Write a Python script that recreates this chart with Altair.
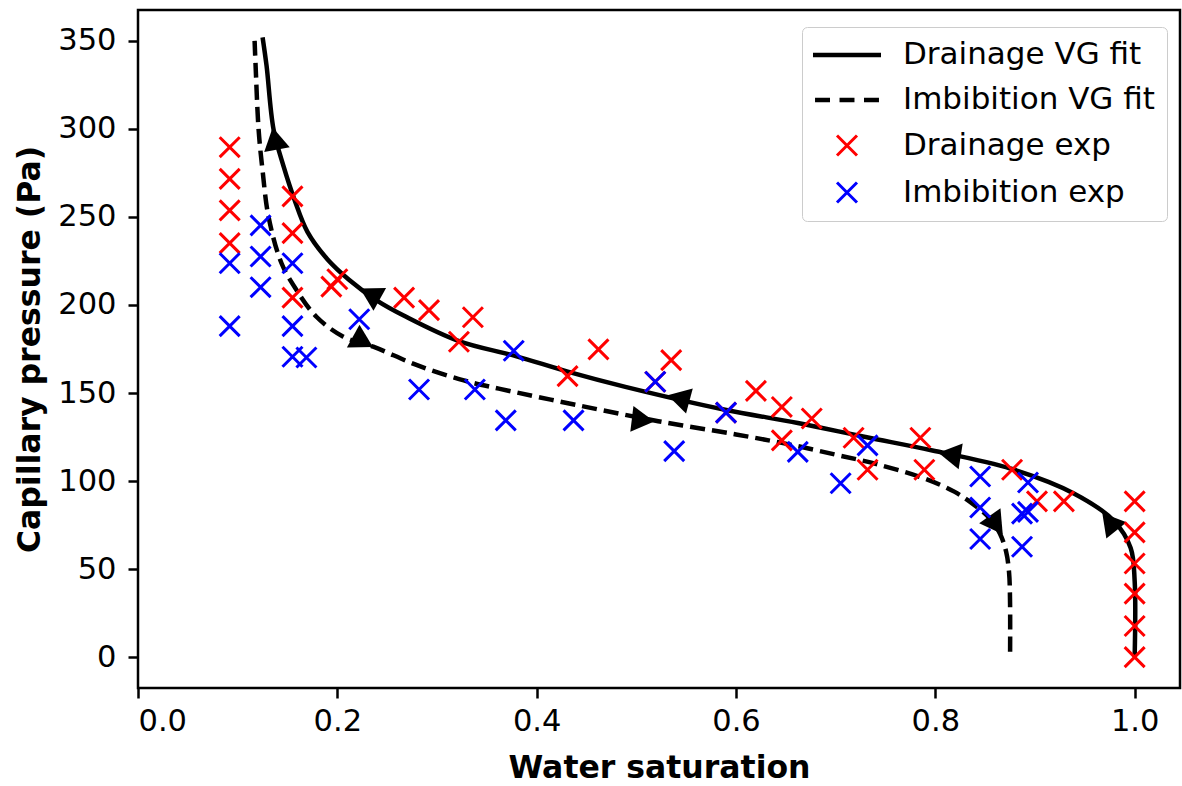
import altair as alt
import pandas as pd

# ---- fitted van Genuchten curves ----
drain_fit_sw = [0.125, 0.129, 0.136, 0.146, 0.157, 0.170, 0.190, 0.212, 0.239, 0.269,
                0.322, 0.379, 0.432, 0.489, 0.589, 0.662, 0.730, 0.796, 0.876, 0.939,
                0.979, 0.996, 1.000, 1.000]
drain_fit_pc = [352, 335.8, 299.7, 278.8, 259.8, 241.5, 226, 214.2, 202.8, 193.3,
                179.5, 171, 162, 153.5, 140.5, 133, 125, 117.5, 107, 93,
                77.5, 62, 43.4, 0]

imb_fit_sw = [0.117, 0.118, 0.121, 0.125, 0.131, 0.144, 0.159, 0.179, 0.206, 0.236,
              0.280, 0.326, 0.362, 0.442, 0.522, 0.600, 0.652, 0.700, 0.742, 0.789,
              0.819, 0.839, 0.855, 0.865, 0.871, 0.874, 0.875, 0.875]
imb_fit_pc = [350, 335.8, 299.7, 276.3, 250, 223.7, 208.5, 193.3, 182, 176.3,
              165.8, 157.3, 152.5, 143, 134, 126.5, 121, 115, 109.5, 101.5,
              94, 86.5, 78.5, 70, 60, 48, 30, 0]

# ---- experimental points ----
drain_exp_sw = [0.092, 0.092, 0.092, 0.092, 0.155, 0.155, 0.155, 0.194, 0.200,
                0.267, 0.292, 0.336, 0.322, 0.462, 0.431, 0.535, 0.519, 0.590,
                0.620, 0.646, 0.676, 0.646, 0.718, 0.732, 0.785, 0.789, 0.877,
                0.902, 0.929, 1.0, 1.0, 1.0, 1.0, 1.0, 1.0]
drain_exp_pc = [289.6, 271.6, 253.7, 235.1, 261.7, 240.8, 204.2, 210.4, 214.6,
                204.2, 197.1, 193.0, 179.1, 174.8, 159.6, 168.7, 156.4, 138.9,
                151.2, 142.1, 135.5, 123.1, 124.6, 106.4, 124.6, 106.4, 106.4,
                88.5, 88.5, 88.5, 70.9, 53.2, 36.1, 17.7, 0.0]

imb_exp_sw = [0.092, 0.092, 0.123, 0.123, 0.123, 0.155, 0.155, 0.155, 0.169,
              0.222, 0.282, 0.338, 0.369, 0.377, 0.437, 0.519, 0.538, 0.590,
              0.662, 0.705, 0.732, 0.845, 0.845, 0.845, 0.893, 0.887, 0.893, 0.887]
imb_exp_pc = [223.7, 188.0, 245.2, 227.5, 210.1, 223.7, 188.0, 170.6, 170.2,
              191.9, 152.0, 152.0, 134.5, 174.0, 134.5, 156.4, 117.0, 138.9,
              116.6, 98.8, 120.3, 102.6, 85.0, 67.1, 99.2, 81.5, 82.5, 62.7]

# ---- direction arrows on the fitted curves ----
arrow_sw = [0.138, 0.236, 0.546, 0.818, 0.977, 0.2225, 0.503, 0.859]
arrow_pc = [292.4, 205.2, 146.6, 114.7, 75.3, 180.3, 134.8, 76.8]
arrow_angle = [349, 299, 285, 279, 321, 119, 97, 145]

legend_labels = ["Drainage VG fit", "Imbibition VG fit", "Drainage exp", "Imbibition exp"]
legend_colors = ["black", "black", "#ff0000", "#0000ff"]
x_ticks = [0.0, 0.2, 0.4, 0.6, 0.8, 1.0]
y_ticks = [0, 50, 100, 150, 200, 250, 300, 350]

FONT = "DejaVu Sans"
SOLID_PATH = "M-2.5,0L2.5,0"
DASHED_PATH = "M-2.35,0L-1.25,0M-0.55,0L0.55,0M1.25,0L2.35,0"
X_PATH = "M-0.735,-0.735L0.735,0.735M0.735,-0.735L-0.735,0.735"
TRI_PATH = "M0,-1.155L-1,0.577L1,0.577Z"

fit = pd.DataFrame({
    "sw": drain_fit_sw + imb_fit_sw,
    "pc": drain_fit_pc + imb_fit_pc,
    "curve": ["drain"] * len(drain_fit_sw) + ["imb"] * len(imb_fit_sw),
    "i": list(range(len(drain_fit_sw))) + list(range(len(imb_fit_sw))),
})
exp = pd.DataFrame({
    "sw": drain_exp_sw + imb_exp_sw,
    "pc": drain_exp_pc + imb_exp_pc,
    "series": ["Drainage exp"] * len(drain_exp_sw) + ["Imbibition exp"] * len(imb_exp_sw),
})
arrows = pd.DataFrame({"sw": arrow_sw, "pc": arrow_pc, "ang": arrow_angle})

xs = alt.Scale(domain=[0, 1.0455], nice=False, zero=False)
ys = alt.Scale(domain=[-17.5, 367.5], nice=False, zero=False)
x_enc = alt.X("sw:Q", scale=xs, title="Water saturation",
              axis=alt.Axis(values=x_ticks, format=".1f", labelPadding=8, titlePadding=16))
y_enc = alt.Y("pc:Q", scale=ys, title="Capillary pressure (Pa)",
              axis=alt.Axis(values=y_ticks, format="d", labelPadding=12, titlePadding=11))

base_fit = alt.Chart(fit)
drain_line = base_fit.transform_filter(alt.datum.curve == "drain").mark_line(
    color="black", strokeWidth=4.5, interpolate="catmull-rom"
).encode(x=x_enc, y=y_enc, order=alt.Order("i:Q"))
imb_line = base_fit.transform_filter(alt.datum.curve == "imb").mark_line(
    color="black", strokeWidth=4.5, strokeDash=[15, 7], interpolate="catmull-rom"
).encode(x=x_enc, y=y_enc, order=alt.Order("i:Q"))

arrow_layer = alt.Chart(arrows).mark_point(
    shape=TRI_PATH, filled=True, color="black", size=676, opacity=1, strokeWidth=0
).encode(x=x_enc, y=y_enc, angle=alt.Angle("ang:Q", scale=None))

leg = alt.Legend(
    title=None, orient="none", legendX=664, legendY=17,
    labelFont=FONT, labelFontSize=31, labelColor="black", labelLimit=500,
    symbolSize=740, symbolOffset=17, labelOffset=40,
    rowPadding=14, padding=12,
    strokeColor="#cccccc", fillColor="white", cornerRadius=5,
)
scatter = alt.Chart(exp).mark_point(
    shape=X_PATH, filled=False, size=740, opacity=1
).encode(
    x=x_enc, y=y_enc,
    color=alt.Color("series:N", scale=alt.Scale(domain=legend_labels, range=legend_colors), legend=leg),
    shape=alt.Shape("series:N", scale=alt.Scale(domain=legend_labels,
                    range=[SOLID_PATH, DASHED_PATH, X_PATH, X_PATH]), legend=leg),
    strokeWidth=alt.StrokeWidth("series:N", scale=alt.Scale(type="ordinal", domain=legend_labels,
                    range=[4.5, 4.5, 3, 3]), legend=leg),
)

chart = alt.layer(drain_line, imb_line, arrow_layer, scatter).properties(
    width=1042, height=678,
    autosize=alt.AutoSizeParams(type="none"),
    padding={"left": 138, "top": 10, "right": 2, "bottom": 98},
).configure_view(
    stroke="black", strokeWidth=2.5
).configure_axis(
    labelFont=FONT, labelFontSize=30.5, labelColor="black",
    titleFont=FONT, titleFontSize=31.5, titleFontWeight="bold", titleColor="black",
    tickColor="black", tickSize=10, tickWidth=2.5, domain=False, grid=False,
)

chart.save("out.html", embed_options={"renderer": "svg", "actions": False})
